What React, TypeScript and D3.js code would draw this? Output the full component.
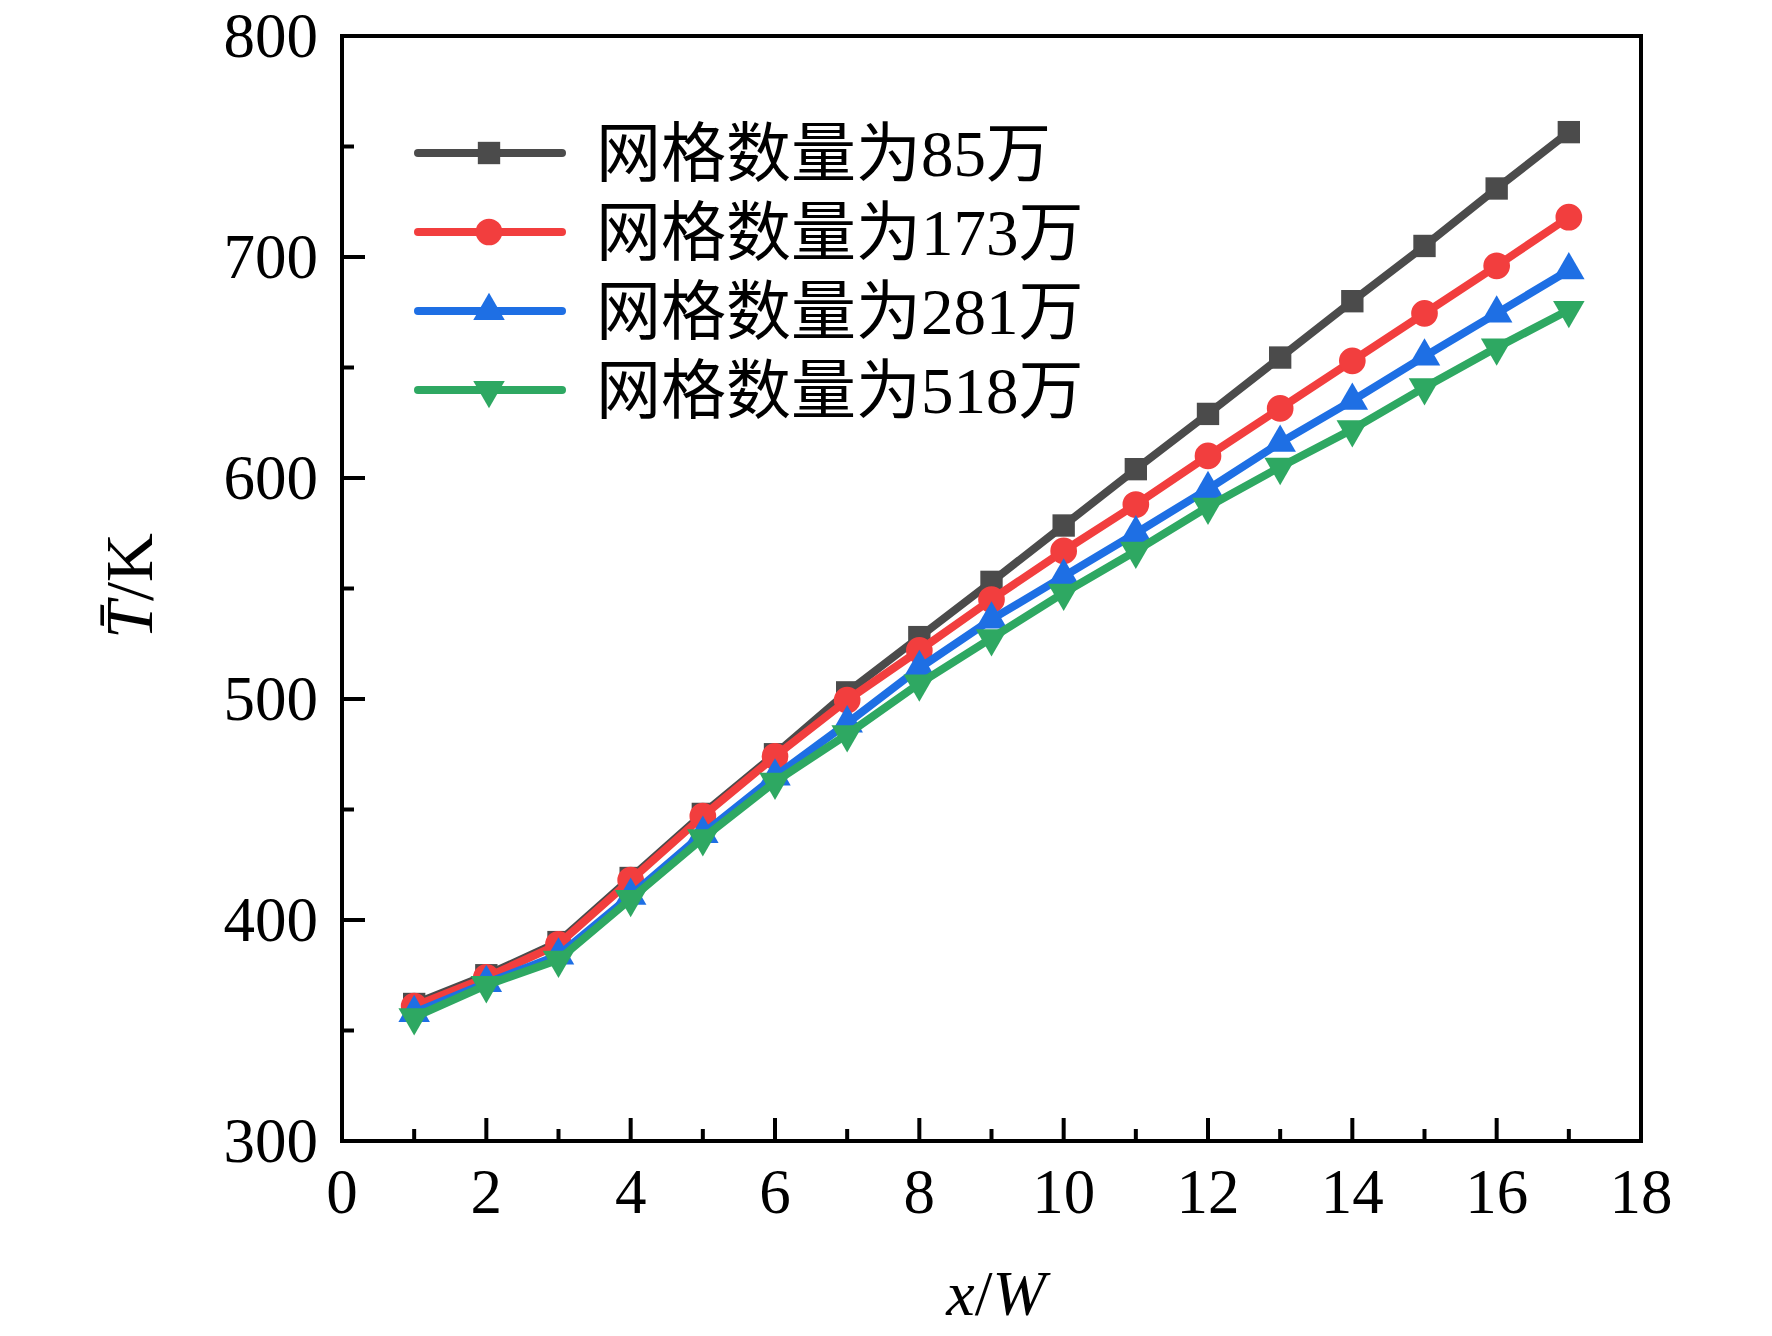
import React, { useEffect, useRef } from "react";
import * as d3 from "d3";

// x/W positions
const xs = [1, 2, 3, 4, 5, 6, 7, 8, 9, 10, 11, 12, 13, 14, 15, 16, 17];

// mean temperature (K) for each mesh size
const mesh85 = [362, 375, 390, 419, 448, 475, 503, 528, 553, 578.5, 604, 629, 654.5, 680, 705, 731, 756.5];
const mesh173 = [361, 374, 389, 418, 447, 474, 499.5, 522, 545, 567, 588, 610, 631.5, 653, 674.5, 696, 718];
const mesh281 = [358, 371.5, 384, 411, 439, 465, 489, 514, 536, 555.5, 575, 595, 616, 635, 655, 674.5, 694];
const mesh518 = [356, 370.5, 382, 409.5, 437, 462.5, 484, 507, 527.5, 548, 567, 587, 605, 622, 641, 659, 676];

const seriesNames = ["网格数量为85万", "网格数量为173万", "网格数量为281万", "网格数量为518万"];
const seriesColors = ["#4b4b4b", "#f23e3e", "#1e6fe4", "#2ea862"];
const seriesShapes = [d3.symbolSquare, d3.symbolCircle, d3.symbolTriangle, d3.symbolTriangle];

const xTicks = [0, 2, 4, 6, 8, 10, 12, 14, 16, 18];
const yTicks = [300, 400, 500, 600, 700, 800];

const App = () => {
  const ref = useRef(null);

  useEffect(() => {
    const width = 1772;
    const height = 1336;
    const margin = { top: 36, right: 131, bottom: 195, left: 342 };

    const svg = d3.select(ref.current);
    svg.selectAll("*").remove();
    svg.attr("width", width).attr("height", height).attr("viewBox", [0, 0, width, height]);

    const x = d3.scaleLinear().domain([0, 18]).range([margin.left, width - margin.right]);
    const y = d3.scaleLinear().domain([300, 800]).range([height - margin.bottom, margin.top]);

    const font = "'Liberation Serif', 'Times New Roman', serif";
    const cjkFont = "'Liberation Serif', 'Noto Sans CJK SC', serif";

    // data lines
    const allSeries = [mesh85, mesh173, mesh281, mesh518];
    const line = d3
      .line()
      .x((d) => x(d[0]))
      .y((d) => y(d[1]));

    const symbolSizes = [500, 560, 430, 430];

    allSeries.forEach((vals, i) => {
      const pts = xs.map((v, j) => [v, vals[j]]);
      const g = svg.append("g");
      g.append("path")
        .datum(pts)
        .attr("d", line)
        .attr("fill", "none")
        .attr("stroke", seriesColors[i])
        .attr("stroke-width", 8)
        .attr("stroke-linejoin", "round");
      g.selectAll("path.m")
        .data(pts)
        .join("path")
        .attr("class", "m")
        .attr("d", d3.symbol(seriesShapes[i], symbolSizes[i]))
        .attr("transform", (d) => `translate(${x(d[0])},${y(d[1])})${i === 3 ? " rotate(180)" : ""}`)
        .attr("fill", seriesColors[i]);
    });

    // frame
    svg
      .append("rect")
      .attr("x", x(0))
      .attr("y", y(800))
      .attr("width", x(18) - x(0))
      .attr("height", y(300) - y(800))
      .attr("fill", "none")
      .attr("stroke", "#000")
      .attr("stroke-width", 4);

    // x axis ticks (inward)
    const xAxis = svg.append("g");
    d3.range(1, 18).forEach((v) => {
      const major = v % 2 === 0;
      xAxis
        .append("line")
        .attr("x1", x(v))
        .attr("x2", x(v))
        .attr("y1", y(300))
        .attr("y2", y(300) - (major ? 23 : 12))
        .attr("stroke", "#000")
        .attr("stroke-width", 4);
    });
    xAxis
      .selectAll("text")
      .data(xTicks)
      .join("text")
      .attr("x", (d) => x(d))
      .attr("y", y(300) + 72)
      .attr("text-anchor", "middle")
      .attr("font-family", font)
      .attr("font-size", 63)
      .text((d) => d);

    // y axis ticks (inward)
    const yAxis = svg.append("g");
    d3.range(350, 800, 50).forEach((v) => {
      const major = v % 100 === 0;
      yAxis
        .append("line")
        .attr("x1", x(0))
        .attr("x2", x(0) + (major ? 23 : 12))
        .attr("y1", y(v))
        .attr("y2", y(v))
        .attr("stroke", "#000")
        .attr("stroke-width", 4);
    });
    yAxis
      .selectAll("text")
      .data(yTicks)
      .join("text")
      .attr("x", x(0) - 24)
      .attr("y", (d) => y(d))
      .attr("dy", "0.34em")
      .attr("text-anchor", "end")
      .attr("font-family", font)
      .attr("font-size", 63)
      .text((d) => d);

    // axis titles
    const xt = svg
      .append("text")
      .attr("x", 996)
      .attr("y", 1315)
      .attr("text-anchor", "middle")
      .attr("font-family", font)
      .attr("font-size", 64);
    xt.append("tspan").attr("font-style", "italic").text("x");
    xt.append("tspan").text("/");
    xt.append("tspan").attr("font-style", "italic").text("W");

    const yt = svg
      .append("text")
      .attr("transform", "translate(152,586) rotate(-90)")
      .attr("text-anchor", "middle")
      .attr("font-family", font)
      .attr("font-size", 68);
    yt.append("tspan").attr("font-style", "italic").text("T\u0304");
    yt.append("tspan").text("/K");

    // legend
    const legendY = [153, 232, 311, 390];
    const legend = svg.append("g");
    seriesNames.forEach((name, i) => {
      const g = legend.append("g").attr("transform", `translate(0,${legendY[i]})`);
      g.append("line")
        .attr("x1", 418)
        .attr("x2", 562)
        .attr("stroke", seriesColors[i])
        .attr("stroke-width", 8)
        .attr("stroke-linecap", "round");
      g.append("path")
        .attr("d", d3.symbol(seriesShapes[i], symbolSizes[i]))
        .attr("transform", `translate(489,0)${i === 3 ? " rotate(180)" : ""}`)
        .attr("fill", seriesColors[i]);
      g.append("text")
        .attr("x", 596)
        .attr("dy", "0.36em")
        .attr("font-family", cjkFont)
        .attr("font-size", 65)
        .text(name);
    });
  }, []);

  return (
    <div style={{ position: "absolute", left: 0, top: 0, background: "#fff" }}>
      <svg ref={ref} style={{ display: "block" }}></svg>
    </div>
  );
};

export default App;
